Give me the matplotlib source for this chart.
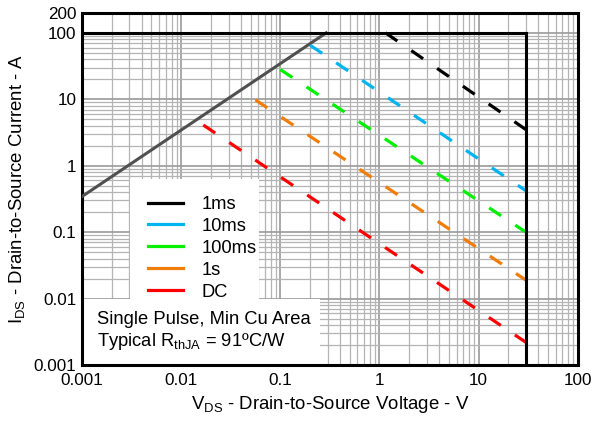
import numpy as np
import matplotlib.pyplot as plt
from matplotlib.lines import Line2D
from matplotlib.patches import Rectangle

plt.rcParams['font.family'] = ['Liberation Sans', 'DejaVu Sans']

# pulse curves: start / end points
labels = ['1ms', '10ms', '100ms', '1s', 'DC']
colors = ['#000000', '#00B4F0', '#00F000', '#F07D0A', '#FF0000']
v_start = [1.15, 0.2, 0.1, 0.056, 0.0167]
i_start = [100, 65, 28, 9.8, 4.1]
v_end = [30, 30, 30, 30, 30]
i_end = [3.5, 0.42, 0.1, 0.019, 0.0022]

# Rds(on) limit line
rds_v = [0.001, 0.29]
rds_i = [0.345, 100]

# current / voltage limits
i_max = 100
v_max = 30

x_ticks = [0.001, 0.01, 0.1, 1, 10, 100]
x_tick_labels = ['0.001', '0.01', '0.1', '1', '10', '100']
y_ticks = [0.001, 0.01, 0.1, 1, 10, 100, 200]
y_tick_labels = ['0.001', '0.01', '0.1', '1', '10', '100', '200']

fig = plt.figure(figsize=(5.95, 4.28), dpi=100)
ax = fig.add_axes([0.138, 0.147, 0.833, 0.823])
ax.set_xscale('log')
ax.set_yscale('log')
ax.set_xlim(0.001, 100)
ax.set_ylim(0.001, 200)

ax.grid(True, which='major', color='#9a9a9a', lw=1.2, zorder=0)
ax.grid(True, which='minor', color='#b4b4b4', lw=0.9, zorder=0)
ax.set_axisbelow(True)

ax.set_xticks(x_ticks)
ax.set_xticklabels(x_tick_labels)
ax.set_yticks(y_ticks)
ax.set_yticklabels(y_tick_labels)
ax.tick_params(which='both', length=0, labelsize=12.3)
ax.tick_params(axis='x', pad=6)
ax.tick_params(axis='y', pad=4)
for s in ax.spines.values():
    s.set_linewidth(2.2)

# white boxes for legend and note
ax.add_patch(Rectangle((0.096, 0.1875), 0.26, 0.34, transform=ax.transAxes,
                       facecolor='white', edgecolor='none', zorder=1))
ax.add_patch(Rectangle((0.0, 0.0), 0.48, 0.1875, transform=ax.transAxes,
                       facecolor='white', edgecolor='none', zorder=1))

ax.plot(rds_v, rds_i, color='#505050', lw=2.2, zorder=3)
ax.plot([0.001, v_max], [i_max, i_max], color='black', lw=2.2, zorder=4)
ax.plot([v_max, v_max], [0.001, i_max], color='black', lw=2.2, zorder=4)

for lab, c, vs, is_, ve, ie in zip(labels, colors, v_start, i_start, v_end, i_end):
    ax.plot([vs, ve], [is_, ie], color=c, lw=2.3, dashes=(4.5, 5.3), zorder=3)

handles = [Line2D([0], [0], color=c, lw=2.3) for c in colors]
leg = ax.legend(handles, labels, loc='upper left', bbox_to_anchor=(0.1, 0.527),
                frameon=False, fontsize=13.2, handlelength=1.9, handletextpad=1.0,
                labelspacing=0.27, borderpad=0.4)
leg.set_zorder(5)

ax.text(0.03, 0.13, 'Single Pulse, Min Cu Area', transform=ax.transAxes,
        fontsize=13.2, va='center', ha='left', zorder=5)
ax.text(0.03, 0.068, 'Typical R$_{\\mathregular{thJA}}$ = 91ºC/W', transform=ax.transAxes,
        fontsize=13.2, va='center', ha='left', zorder=5)

ax.set_xlabel('V$_{\\mathregular{DS}}$ - Drain-to-Source Voltage - V', fontsize=13.4, labelpad=4)
ax.set_ylabel('I$_{\\mathregular{DS}}$ - Drain-to-Source Current - A', fontsize=13.4, labelpad=4)

fig.savefig('out.png', dpi=100)
